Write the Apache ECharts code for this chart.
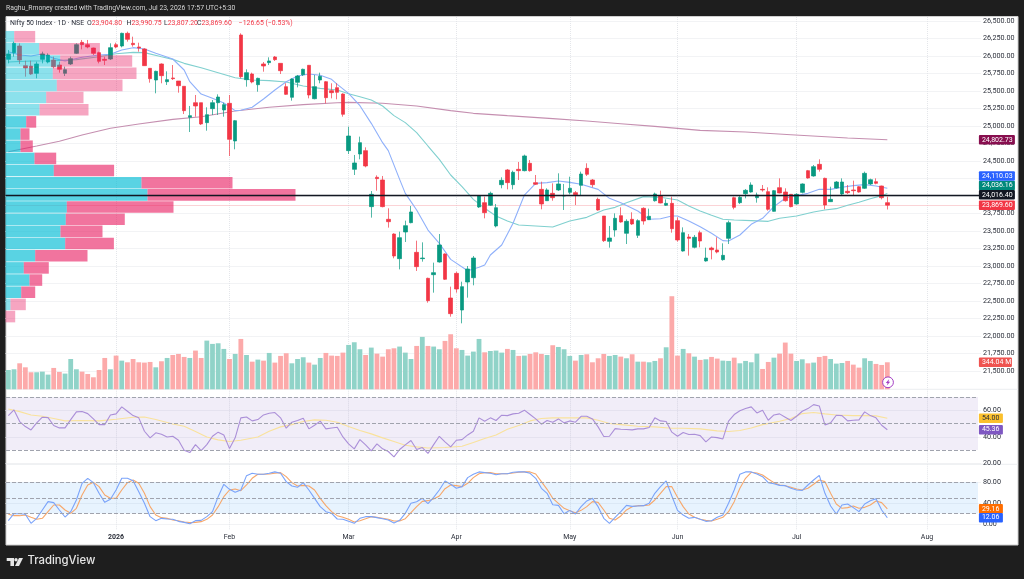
<!DOCTYPE html>
<html><head><meta charset="utf-8">
<style>html,body{margin:0;padding:0;background:#1e1e1e}#c{width:1024px;height:579px}</style>
<script src="https://cdn.jsdelivr.net/npm/echarts@6/dist/echarts.min.js"></script>
</head><body><div id="c"></div>
<script>
// ---------- DATA ----------
const monthLabels = {19:'2026',39:'Feb',60:'Mar',79:'Apr',99:'May',118:'Jun',139:'Jul',162:'Aug'};
const slotCount = 172;
const categories = Array.from({length:slotCount},(_,i)=>monthLabels[i]||'');
const priceTicks = [21500,21750,22000,22250,22500,22750,23000,23250,23500,23750,24000,24250,24500,24750,25000,25250,25500,25750,26000,26250,26500];
const rsiTicks = [20,40,60];
const stochTicks = [0,40,80];
// open, close, low, high
const candles = [
[25952,26029,25895,26086],[26048,26181,25990,26205],[26143,25943,25886,26181],[25862,25829,25705,25933],[25857,25743,25729,25933],[25752,25886,25681,25919],[25952,26029,25895,26062],[25914,26014,25895,26038],[25943,25848,25824,25990],[25871,25810,25762,25919],
[25752,25805,25714,25848],[25886,25962,25871,25990],[26038,26162,26029,26181],[26195,26162,26095,26229],[26162,26129,26110,26229],[26114,26038,26014,26119],[26048,25924,25895,26062],[25952,25938,25871,25990],[25957,26119,25943,26181],[26162,26129,26110,26190],
[26143,26324,26124,26333],[26324,26238,26205,26348],[26181,26162,26133,26276],[26129,26114,26062,26190],[26100,25862,25857,26110],[25824,25676,25619,25824],[25657,25781,25467,25790],[25886,25719,25610,25895],[25633,25662,25586,25781],[25686,25676,25657,25871],
[25643,25576,25476,25643],[25567,25219,25171,25567],[25124,25148,24914,25286],[25333,25286,25133,25443],[25333,25029,25014,25333],[25048,25162,24933,25267],[25248,25333,25157,25371],[25333,25414,25157,25452],[25229,25305,25133,25333],[25324,24809,24571,25443],
[24786,25076,24667,25086],[26300,25705,25681,26324],[25662,25762,25562,25810],[25743,25629,25610,25762],[25590,25681,25490,25690],[25886,25857,25776,25914],[25905,25929,25871,25981],[25986,25948,25929,26000],[25895,25790,25743,25895],[25562,25452,25443,25610],
[25410,25671,25362,25681],[25624,25714,25552,25729],[25733,25810,25714,25819],[25867,25443,25395,25871],[25390,25562,25381,25729],[25657,25710,25610,25762],[25633,25405,25324,25643],[25505,25476,25395,25610],[25548,25481,25381,25610],[25457,25167,25133,25467],
[24648,24857,24600,24990],[24381,24472,24300,24586],[24600,24762,24524,24848],[24648,24429,24410,24695],[23848,24024,23691,24071],[24267,24248,24076,24295],[24229,23848,23838,24286],[23667,23633,23548,23824],[23457,23143,23110,23467],[23105,23405,22952,23491],
[23486,23576,23343,23648],[23619,23772,23610,23857],[23195,22991,22929,23362],[23105,23114,23062,23338],[22824,22505,22476,22833],[22876,22905,22619,23048],[23057,23300,23048,23457],[23172,22810,22800,23181],[22543,22319,22276,22705],[22895,22671,22619,22919],
[22371,22705,22181,22776],[22771,22957,22548,23000],[22833,23114,22724,23143],[23843,24000,23829,24014],[23905,23762,23681,23991],[23867,24038,23857,24062],[23572,23833,23552,23886],[24162,24224,24110,24267],[24372,24191,24095,24386],[24162,24338,24095,24362],
[24381,24362,24229,24486],[24362,24572,24352,24591],[24467,24362,24348,24514],[24191,24167,24157,24300],[24095,23886,23810,24205],[23933,24086,23929,24110],[24038,23976,23933,24181],[24086,24172,24072,24324],[24000,24005,23800,24172],[24052,24110,24024,24276],
[24048,24019,23871,24071],[24152,24314,24010,24348],[24395,24310,24286,24467],[24229,24162,24124,24243],[23952,23800,23791,23976],[23714,23362,23343,23714],[23352,23400,23262,23572],[23514,23681,23419,23752],[23719,23629,23619,23838],[23467,23638,23314,23667],
[23667,23600,23586,23767],[23438,23648,23400,23667],[23824,23643,23591,23838],[23662,23710,23657,23819],[23933,24029,23919,24048],[24000,23900,23895,24076],[23867,23895,23857,23952],[23895,23533,23476,23991],[23648,23372,23348,23695],[23214,23476,23205,23552],
[23414,23395,23148,23457],[23267,23410,23252,23443],[23476,23357,23267,23505],[23072,23114,23062,23262],[23257,23233,23095,23276],[23229,23200,23181,23410],[23091,23152,23076,23324],[23395,23619,23314,23648],[23976,23838,23810,23991],[23905,23981,23886,24000],
[24033,24081,23967,24100],[24057,24157,24048,24195],[23976,24014,23905,24048],[24095,24086,24062,24157],[24062,23810,23791,24124],[23781,24076,23776,24086],[24119,24043,24038,24252],[24057,23933,23919,24110],[24024,23848,23838,24029],[23886,24024,23876,24038],
[24052,24172,24038,24181],[24362,24257,24248,24372],[24286,24419,24276,24443],[24452,24381,24348,24524],[24252,23871,23810,24262],[23919,23952,23914,24133],[24114,24200,24105,24214],[24029,24200,24014,24252],[24067,24048,24029,24157],[24086,24076,24014,24219],
[24133,24057,24048,24143],[24110,24324,24100,24348],[24172,24233,24157,24248],[24205,24181,24167,24252],[24143,23976,23952,24148],[23904.80,23869.60,23807.20,23990.75]
];
const volumes = [
246,255,331,280,217,217,225,187,272,221,
200,386,255,225,195,153,246,399,255,429,
365,344,386,344,340,348,280,357,399,437,
450,412,399,493,399,620,578,586,514,386,
450,641,437,352,378,365,463,340,425,459,
331,386,408,340,314,399,463,429,425,
467,565,599,510,437,531,454,416,510,522,
544,467,386,552,667,552,544,510,616,701,
522,501,429,480,641,471,488,493,467,514,
501,425,429,450,471,450,437,561,539,510,
425,365,437,446,344,395,450,425,437,416,
395,446,352,352,344,361,395,535,1185,429,
514,459,416,374,382,412,391,365,361,403,
331,361,344,454,259,348,403,454,595,454,
361,382,331,340,412,425,386,327,335,361,
314,276,395,361,323,310,344.04
];
const ema20 = [[0,26062],[2,26014],[4,26000],[6,26029],[8,25967],[10,25929],[13,25981],[16,26014],[18,26024],[20,26086],[22,26119],[24,26100],[26,26038],[29,25957],[31,25800],[32,25633],[34,25457],[36,25395],[38,25329],[40,25219],[41,25224],[43,25267],[45,25386],[47,25514],[49,25633],[51,25714],[53,25743],[55,25724],[57,25667],[58,25595],[60,25467],[62,25290],[64,25038],[66,24762],[67,24648],[69,24238],[70,24038],[71,23919],[72,23800],[74,23514],[76,23324],[78,23095],[81,22933],[83,22981],[84,23014],[85,23157],[87,23300],[89,23610],[91,24014],[93,24181],[95,24191],[97,24214],[99,24195],[101,24167],[104,24095],[106,23967],[108,23905],[111,23786],[113,23667],[115,23676],[117,23714],[118,23714],[120,23643],[122,23562],[124,23467],[126,23362],[127,23357],[129,23443],[131,23595],[133,23681],[135,23848],[137,23967],[139,24005],[141,24038],[143,24095],[145,24095],[147,24124],[149,24148],[151,24162],[153,24143],[155,24110.03]];
const ema50 = [[0,25914],[4,25929],[8,25933],[12,25948],[16,25990],[19,26033],[22,26052],[24,26048],[27,25990],[29,25952],[31,25895],[34,25833],[37,25762],[40,25690],[43,25657],[46,25648],[49,25629],[52,25571],[55,25538],[58,25514],[60,25462],[62,25419],[64,25371],[66,25286],[68,25148],[70,25048],[72,24905],[74,24714],[76,24524],[78,24300],[80,24133],[82,23952],[84,23824],[86,23714],[88,23643],[90,23586],[93,23572],[96,23557],[99,23643],[102,23695],[105,23800],[107,23838],[109,23905],[112,23991],[115,23981],[118,23943],[120,23857],[122,23786],[124,23724],[126,23667],[128,23657],[131,23648],[134,23638],[136,23681],[139,23714],[142,23771],[144,23800],[146,23819],[148,23867],[150,23910],[152,23962],[154,24005],[155,24036.16]];
const ema200 = [[0,24633],[5,24714],[9,24781],[13,24871],[18,24967],[23,25029],[29,25095],[34,25133],[40,25214],[46,25267],[52,25305],[58,25333],[60,25338],[66,25324],[72,25286],[78,25219],[82,25181],[88,25148],[96,25105],[102,25071],[108,25033],[114,24995],[122,24938],[130,24914],[138,24876],[148,24829],[155,24802.73]];
const rsi = [
56,60.3,51.5,47.7,45.2,50.5,54.8,54.5,48.5,46.7,
46.7,53,58.8,59.1,57.5,53.5,49.2,49.2,56.5,57.3,
62.6,59.3,56,54.3,44.2,39.2,43,41.9,39.9,40.4,
37.4,29.9,28.1,34.1,29.6,34.1,40.4,43.5,41.4,31.1,
39.2,54.3,55,52,53,56.5,57.8,58.3,54.3,46.5,
51,52.3,54,46,48.7,51.8,46,46.7,47.2,
39.9,34.7,30.9,37.9,33.9,29.4,34.7,30.9,28.9,24.8,
30.4,33.9,37.2,30.4,31.9,27.4,34.1,40.4,36.2,32.4,
37.4,37.9,41.4,44.2,54.3,51.8,54.3,52.3,56.3,56,
57.3,57.8,60.1,56.8,53.5,49.5,52.3,51,53.5,50.5,
52,51,55.5,55.5,53.5,47.5,40.2,40.4,46.2,45.7,
45.5,45.2,46,46,47,54.3,52,51.5,43.5,40.4,
43.2,41.7,41.9,40.9,36.2,39.9,39.4,38.4,51.8,56.8,
59.6,61.3,62.6,58,60.1,52.5,56.5,57.3,54.8,52.3,
55.5,59.3,61.3,64.3,63.3,49,50.5,56.3,56,52,
52.5,52.8,58.8,56,54.3,48.7,45.36
];
const rsiMa = [[0,61],[2,59],[4,56.5],[6,55.5],[8,53.8],[10,52],[13,52.3],[16,52],[19,53.3],[22,54.8],[24,55],[26,53],[29,49.7],[31,48],[33,44],[35,39.9],[37,37.7],[39,36.4],[41,37.4],[44,39.9],[46,44.2],[48,47.5],[50,49.2],[52,51.5],[54,52.8],[56,52.5],[58,51],[60,47.7],[62,44.7],[64,42.2],[66,39.2],[68,36.4],[70,33.6],[72,32.4],[74,31.6],[77,31.9],[80,32.9],[82,35.7],[84,38.7],[86,41.4],[88,45.7],[90,48.5],[92,52],[94,53.8],[96,54.3],[100,54.3],[102,54.3],[104,52.5],[106,50],[108,49.2],[111,48],[114,47.5],[117,46.5],[119,46.5],[122,46],[125,44.5],[127,44],[129,44.7],[131,46.7],[133,49.2],[136,51.8],[138,53.8],[140,57.5],[142,58.3],[144,57.3],[146,56.5],[149,56],[151,56],[153,55.8],[155,54]];
const stochK = [
6.4,19.8,19.8,18.6,1.3,10.9,26.9,42.9,41,26.9,
13.4,23.7,46.1,78.1,87.7,79.4,58.9,41.6,47.4,65.3,
87.7,87.7,83.2,62.1,39.7,14.1,6.4,10.9,9.6,9,
5.1,3.2,.6,6.4,7,14.1,23.7,52.5,76.2,66.6,
60.8,65.3,92.8,97.3,95.4,95.4,97.3,100,97.3,81.3,
73,70.4,79.4,65.3,49.3,33.3,23.7,20.5,9.6,
9,5.1,1.3,10.9,14.1,14.1,12.2,10.2,7.7,1.9,
7,20.5,39.7,42.9,49.3,39,51.2,65.3,82.6,76.2,
68.5,71.7,89,95.4,100,98.6,97.3,94.7,96.6,96.6,
99.2,100,100,97.3,87.7,68.5,58.9,37.1,35.8,19.8,
26.2,19.2,33.3,44.2,49.3,33.3,10.9,1.3,12.8,23.7,
35.8,33.9,34.6,35.2,39.7,58.9,71.7,82.6,53.8,26.2,
17.3,10.9,12.8,9,5.1,6.4,12.8,17.3,39.7,65.3,
95.4,100,100,96,90.9,79.4,77.4,74.2,73.6,68.5,
65.3,64.6,74.9,84.5,93.4,58.9,34.6,19.2,36.5,38.4,
31.4,23.7,38.4,44.8,48.6,26.9,12.06
];
const stochD = [
18.6,16,16,17.3,12.8,9,10.9,23.7,36.5,36.5,
26.9,20.5,30.1,55.7,74.9,80,71.7,55.7,49.3,49.3,
65.3,79.4,84.5,78.1,58.9,33.3,17.3,12.2,10.9,7.7,
6.4,3.8,2.6,3.2,4.5,9,17.3,33.3,52.5,65.3,
67.2,64,74.9,87.7,95.4,95.4,96,97.3,98.6,90.9,
79.4,73,74.2,73,65.3,49.3,35.2,23.7,16,
12.8,9,3.8,6.4,10.2,14.1,12.8,10.9,9,5.8,
5.8,10.2,21.8,33.3,43.5,44.8,48,53.8,67.8,74.9,
73.6,71.7,78.1,89,96.6,98.6,98.6,96.6,96.6,96.6,
97.9,99.2,100,100,96,81.3,66.6,49.3,39.7,30.1,
25.6,21.8,26.2,33.3,42.9,41.6,26.9,10.9,7.7,15.4,
26.9,33.3,35.2,35.2,36.5,46.1,58.9,71.7,71.7,51.2,
33.3,19.2,12.8,9,7,5.8,9,12.8,23.7,42.9,
68.5,87.7,99.2,97.9,94.1,86.4,79.4,74.9,73.6,70.4,
67.2,65.3,68.5,76.2,84.5,81.3,58.9,38.4,30.1,31.4,
34.6,30.1,32,36.5,44.2,41,29.16
];
const vpUp   = [8.7,33.7,54.7,47.3,51.3,40.7,34,20.7,15,15,29,48.3,136,142,61.3,60.3,55,59.7,29.7,18.3,24,15.7,5,0];
const vpDown = [21,60.7,72,83.7,65.7,37.3,49,10,9,12.3,21.7,60.3,91,148,106.7,59,42,48.7,52.3,25,12.7,14,15.3,9.7];
const vpHighPrice = 26362, vpRowSize = 173.8, vpValueAreaFirst = 7, vpValueAreaLast = 21;
const lastPrice = 23869.60, levelLine = 24016.40;
const headerLeft = 'Raghu_Rmoney created with TradingView.com, Jul 23, 2026 17:57 UTC+5:30';
const headerItems = [['Nifty 50 Index · 1D · NSE','',10],['O','23,904.80',87],['H','23,990.75',126.5],['L','23,807.20',164],['C','23,869.60',197],['','−126.65 (−0.53%)',238.7]];

// ---------- LAYOUT / STYLE ----------
const FONT = 'Roboto';
const gridL = 5.5, gridW = 975.4;
const bandL = 6, bandR = 978;
const up = '#089981', down = '#f23645';
const axisText = '#2a2e39';
const dotted = {type:'dotted',color:'#e4e6ea',width:1};

const vpRows = vpUp.map((u,i)=>[vpHighPrice-(i+1)*vpRowSize, vpHighPrice-i*vpRowSize, u, vpDown[i], (i>=vpValueAreaFirst&&i<=vpValueAreaLast)?1:0]);

function xAxis(gridIndex, opts){
  return Object.assign({
    type:'category',gridIndex,data:categories,boundaryGap:true,
    axisLine:{show:false},
    axisTick:{show:false,alignWithLabel:true,interval:(i,v)=>v!==''},
    axisLabel:{show:false},
    splitLine:{show:true,alignWithLabel:true,interval:(i,v)=>v!=='',lineStyle:dotted}
  },opts||{});
}
function yAxis(gridIndex,min,max,ticks){
  return {type:'value',gridIndex,min,max,position:'right',
    axisLine:{show:false},
    axisTick:{show:false,customValues:ticks},
    axisLabel:{show:true,margin:2,align:'left',customValues:ticks,color:axisText,fontFamily:FONT,fontSize:7.2,
      showMinLabel:true,showMaxLabel:true,
      formatter:v=>v.toLocaleString('en-US',{minimumFractionDigits:2,maximumFractionDigits:2})},
    splitLine:{show:true,lineStyle:dotted}};
}
// dy moves a tag up from its value when tags would collide, as the reference does
function tag(value,text,bg,fg,w,dy){
  return {yAxis:value,
    label:{show:true,position:'end',distance:-2,formatter:text,color:fg||'#fff',backgroundColor:bg,offset:[0,dy||0],
      fontFamily:FONT,fontSize:7,padding:[1.5,3,1,3],borderRadius:1,width:w||30,align:'left'},
    lineStyle:{color:'rgba(0,0,0,0)',width:0}};
}
function tagLine(items,z){return {silent:true,symbol:'none',animation:false,data:items,z};}
function lineS(name,xi,yi,data,color,z,tags,extra){
  return Object.assign({name,type:'line',xAxisIndex:xi,yAxisIndex:yi,data,symbol:'none',showSymbol:false,
    lineStyle:{color,width:1.1},itemStyle:{color},z,silent:true,
    markLine:tags?tagLine(tags,z+3):undefined},extra||{});
}
function dash(v){return [{x:bandL,yAxis:v},{x:bandR,yAxis:v}];}
const dashStyle = {type:'dashed',color:'#a0a3ad',width:1};

const hdrVal = {color:'#f23645',fontFamily:FONT,fontSize:6.9};
const hdrTxt = {color:'#2a2e39',fontFamily:FONT,fontSize:6.9};

const option = {
  animation:false,
  backgroundColor:'#1e1e1e',
  textStyle:{fontFamily:FONT},
  title:[
    {text:headerLeft,left:6,top:4,padding:0,
      textStyle:{color:'#d6d6d6',fontFamily:FONT,fontSize:6.8,fontWeight:'normal',lineHeight:9}},
    ...headerItems.map(([a,b,x])=>({text:(a?'{a|'+a+'}':'')+(b?'{b|'+b+'}':''),left:x,top:19,padding:0,
      textStyle:{fontSize:6.9,fontWeight:'normal',lineHeight:9,rich:{a:hdrTxt,b:hdrVal}}}))
  ],
  graphic:[
    {type:'rect',z:-10,shape:{x:6,y:16.5,width:1012,height:528.5},style:{fill:'#fff',stroke:'#cfcfcf',lineWidth:1}},
    {type:'line',z:-9,shape:{x1:6,y1:389.3,x2:1018,y2:389.3},style:{stroke:'#eceef1',lineWidth:1}},
    {type:'line',z:-9,shape:{x1:6,y1:464.3,x2:1018,y2:464.3},style:{stroke:'#eceef1',lineWidth:1}},
    {type:'polygon',shape:{points:[[6.7,558],[14,558],[14,566],[10.4,566],[10.4,561],[6.7,561]]},style:{fill:'#e6e6e6'}},
    {type:'circle',shape:{cx:16,cy:559.7,r:1.7},style:{fill:'#e6e6e6'}},
    {type:'polygon',shape:{points:[[19,558],[23,558],[19,566],[15,566]]},style:{fill:'#e6e6e6'}},
    {type:'text',left:27.5,top:555.5,style:{text:'TradingView',fill:'#e6e6e6',font:'500 11.3px Inter, Roboto'}},
    {type:'circle',z:20,shape:{cx:888,cy:382.3,r:5.4},style:{fill:'#fff',stroke:'#a33ec4',lineWidth:1}},
    {type:'polygon',z:21,shape:{points:[[889.2,379],[885.8,382.9],[887.6,382.9],[886.8,385.6],[890.2,381.7],[888.4,381.7]]},style:{fill:'#a33ec4'}}
  ],
  grid:[
    {left:gridL,width:gridW,top:17,height:372.3},
    {left:gridL,width:gridW,top:17,height:372.3},
    {left:gridL,width:gridW,top:389.3,height:74},
    {left:gridL,width:gridW,top:464.3,height:65.7}
  ],
  xAxis:[
    xAxis(0),
    {type:'value',gridIndex:1,min:0,max:gridW,show:false},
    xAxis(2),
    xAxis(3,{axisLabel:{show:true,interval:0,margin:4,color:axisText,fontFamily:FONT,fontSize:7,
      hideOverlap:false,
      formatter:v=>v==='2026'?'{b|2026}':v,rich:{b:{fontWeight:'bold',fontSize:7,color:axisText,fontFamily:FONT}}}})
  ],
  yAxis:[
    yAxis(0,21238.6,26557.1,priceTicks),
    {type:'value',gridIndex:0,min:0,max:4740,show:false,splitLine:{show:false}},
    {type:'value',gridIndex:1,min:21238.6,max:26557.1,show:false,splitLine:{show:false}},
    yAxis(2,20,75.85,rsiTicks),
    yAxis(3,-11.5,114.6,stochTicks)
  ],
  series:[
    {name:'Volume',type:'bar',xAxisIndex:0,yAxisIndex:1,barWidth:4.8,z:1,silent:true,
      data:volumes.map((v,i)=>({value:v,itemStyle:{color:candles[i][1]>=candles[i][0]?'#90d3c8':'#fcaaaa'}})),
      markLine:tagLine([tag(344.04,'344.04 M','#ef5350','#fff',27)],2)},
    {name:'Nifty 50',type:'candlestick',xAxisIndex:0,yAxisIndex:0,barWidth:4,z:2,silent:true,data:candles,
      itemStyle:{color:up,color0:down,borderColor:up,borderColor0:down,borderWidth:.7},
      markLine:{silent:true,symbol:'none',z:2,
        lineStyle:{type:'dotted',color:'#f7a6ac',width:1},
        data:[Object.assign(tag(lastPrice,'23,869.60',down),{lineStyle:{type:'dotted',color:'#f7a6ac',width:1}})]}},
    lineS('EMA 200',0,0,ema200,'#c58fb0',2,[tag(24802.73,'24,802.73','#880e4f')]),
    lineS('EMA 50',0,0,ema50,'#80d0cf',2,[tag(24036.16,'24,036.16','#00897b','#fff',30,-8)]),
    lineS('EMA 20',0,0,ema20,'#8fb0fa',2,[tag(24110.03,'24,110.03','#2962ff','#fff',30,-12.3)]),
    {name:'Volume profile',type:'custom',xAxisIndex:1,yAxisIndex:2,z:3,silent:true,clip:false,
      encode:{x:[2,3],y:[0,1]},data:vpRows,
      renderItem:(p,api)=>{
        const lo=api.value(0),hi=api.value(1),u=api.value(2),d=api.value(3),va=api.value(4);
        const a=api.coord([0,hi]),b=api.coord([u,lo]),c=api.coord([u+d,lo]);
        const blue=va?'rgba(0,188,212,0.65)':'rgba(0,188,212,0.45)';
        const pink=va?'rgba(233,30,99,0.62)':'rgba(233,30,99,0.40)';
        return {type:'group',children:[
          {type:'rect',shape:{x:a[0],y:a[1]+.3,width:b[0]-a[0],height:b[1]-a[1]-.6},style:{fill:blue}},
          {type:'rect',shape:{x:b[0],y:a[1]+.3,width:c[0]-b[0],height:b[1]-a[1]-.6},style:{fill:pink}}
        ]};
      }},
    {name:'Level',type:'line',xAxisIndex:0,yAxisIndex:0,z:5,data:[],silent:true,symbol:'none',
      markLine:{silent:true,symbol:'none',z:5,
        data:[Object.assign(tag(levelLine,'24,016.40','#131722'),{lineStyle:{color:'#131722',width:1.4,type:'solid'}})]}},
    {name:'RSI band',type:'line',xAxisIndex:2,yAxisIndex:3,data:[],z:1,silent:true,
      markArea:{silent:true,itemStyle:{color:'rgba(126,87,194,0.11)'},data:[[{x:bandL,yAxis:70},{x:bandR,yAxis:30}]]},
      markLine:{silent:true,symbol:'none',label:{show:false},lineStyle:dashStyle,data:[dash(70),dash(50),dash(30)]}},
    lineS('RSI MA',2,3,rsiMa,'#f9e29c',2,[tag(54,'54.00','#fbc02d','#2a2e39',18)]),
    lineS('RSI',2,3,rsi.map((v,i)=>[i,v]),'#ab8fd8',2,[tag(45.36,'45.36','#7e57c2','#fff',18)]),
    {name:'Stoch band',type:'line',xAxisIndex:3,yAxisIndex:4,data:[],z:1,silent:true,
      markArea:{silent:true,itemStyle:{color:'rgba(33,150,243,0.11)'},data:[[{x:bandL,yAxis:80},{x:bandR,yAxis:20}]]},
      markLine:{silent:true,symbol:'none',label:{show:false},lineStyle:dashStyle,data:[dash(80),dash(50),dash(20)]}},
    lineS('%D',3,4,stochD.map((v,i)=>[i,v]),'#f7a76a',2,[tag(29.16,'29.16','#ff6d00','#fff',18)]),
    lineS('%K',3,4,stochK.map((v,i)=>[i,v]),'#7aa3fa',3,[tag(12.06,'12.06','#2962ff','#fff',18)])
  ]
};
echarts.init(document.getElementById('c'),null,{renderer:'canvas'}).setOption(option);
</script></body></html>
